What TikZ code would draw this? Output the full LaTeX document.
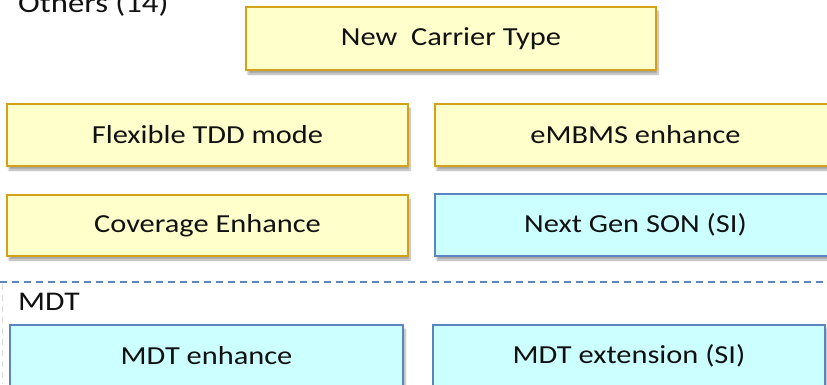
\documentclass[tikz,border=0pt]{standalone}
\usepackage{fontspec}
\setmainfont[FakeStretch=1.17]{Carlito}
\usetikzlibrary{shadows.blur}

\definecolor{boxyellow}{HTML}{FFFFCC}
\definecolor{edgegold}{HTML}{D4A21A}
\definecolor{boxcyan}{HTML}{CCFFFF}
\definecolor{edgeblue}{HTML}{5B84C0}
\definecolor{inkblack}{HTML}{111111}

\tikzset{
  feature/.style={rectangle, line width=1.6pt, text=inkblack,
    font=\fontsize{26}{30}\selectfont, inner sep=0pt,
    blur shadow={shadow xshift=2pt, shadow yshift=-4pt, shadow blur steps=6, shadow opacity=35}},
  workitem/.style={feature, draw=edgegold, fill=boxyellow},
  studyitem/.style={feature, draw=edgeblue, fill=boxcyan},
  grouplabel/.style={anchor=base west, inner sep=0pt, text=inkblack,
    font=\fontsize{27}{31}\selectfont},
  separator/.style={draw=edgeblue, line width=1.4pt, dash pattern=on 7pt off 5pt},
  sideguide/.style={draw=black!15, line width=1pt, dash pattern=on 6pt off 5pt}
}

\begin{document}
\begin{tikzpicture}[x=1pt, y=-1pt]
  \useasboundingbox (0,0) rectangle (827,384);
  \clip (0,0) rectangle (827,384);

  % Group heading for the upper block
  \node[grouplabel, font=\fontsize{28}{32}\selectfont] (others) at (18,12) {Others (14)};

  % Upper block: work items and study items
  \node[workitem, minimum width=410pt, minimum height=63pt] (nct) at (451,38.5) {New\ \ Carrier Type};
  \node[workitem, minimum width=401pt, minimum height=62pt] (ftdd) at (207.5,135) {Flexible TDD mode};
  \node[workitem, minimum width=401pt, minimum height=62pt] (embms) at (635.5,135) {eMBMS enhance};
  \node[workitem, minimum width=401pt, minimum height=61pt] (cov) at (207.5,225.5) {Coverage Enhance};
  \node[studyitem, minimum width=401pt, minimum height=62pt] (son) at (635.5,225) {Next Gen SON (SI)};

  % Separator between the two groups
  \coordinate (sepL) at (0,282);
  \coordinate (sepR) at (827,282);
  \draw[separator] (sepL) -- (sepR);
  \coordinate (guideT) at (2,284);
  \coordinate (guideB) at (2,384);
  \draw[sideguide] (guideT) -- (guideB);

  % Lower block: MDT
  \node[grouplabel] (mdt) at (18,310) {MDT};
  \node[studyitem, minimum width=393pt, minimum height=62pt] (mdtenh) at (206.5,356) {MDT enhance};
  \node[studyitem, minimum width=392pt, minimum height=62pt] (mdtext) at (629,356) {MDT extension (SI)};
\end{tikzpicture}
\end{document}
